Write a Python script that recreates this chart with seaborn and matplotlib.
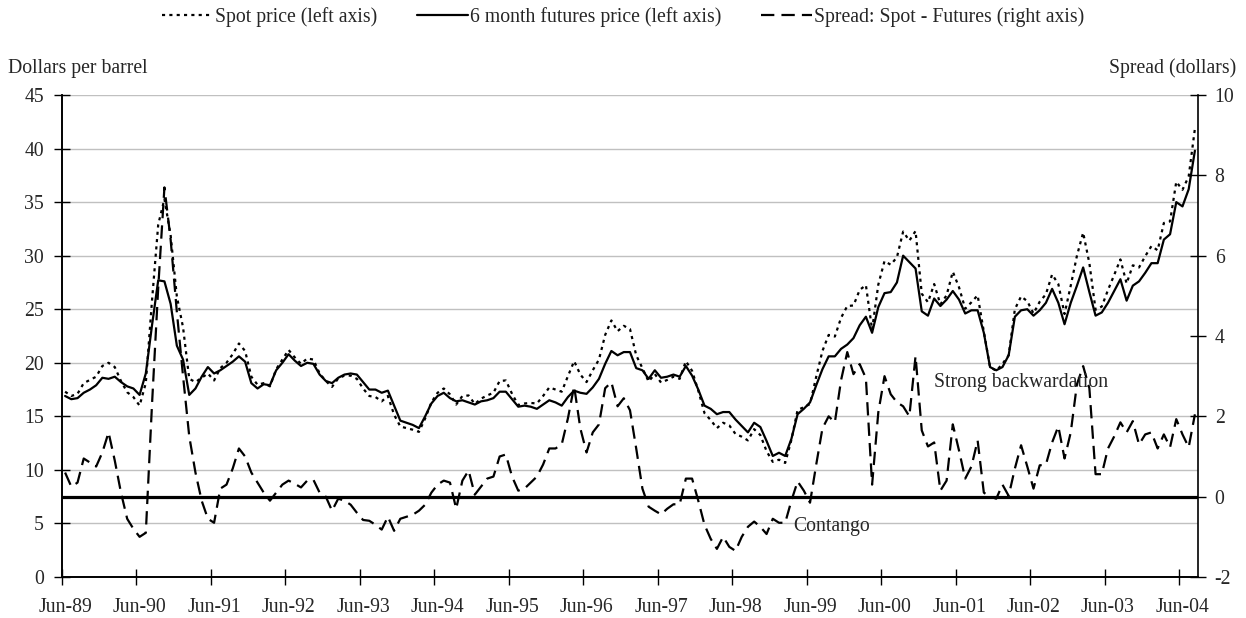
import numpy as np
import pandas as pd
import matplotlib
matplotlib.use("Agg")
import matplotlib.pyplot as plt
import seaborn as sns

# ---------------- data (monthly, Jun-1989 .. Aug-2004) ----------------
year_labels = ["Jun-89", "Jun-90", "Jun-91", "Jun-92", "Jun-93", "Jun-94", "Jun-95", "Jun-96",
               "Jun-97", "Jun-98", "Jun-99", "Jun-00", "Jun-01", "Jun-02", "Jun-03", "Jun-04"]

spot = [
    17.3, 16.9, 17.1, 18.1, 18.4, 18.7, 19.7, 20.0, 19.6, 18.3,
    17.25, 16.8, 16.0, 18.1, 25.8, 32.9, 35.3, 31.9, 26.2, 23.3,
    18.5, 18.2, 18.6, 19.0, 18.35, 19.5, 20.0, 20.8, 21.8, 21.1,
    18.7, 17.95, 18.1, 17.8, 19.4, 20.3, 21.2, 20.5, 19.9, 20.4,
    20.3, 19.0, 18.3, 17.75, 18.55, 18.8, 18.8, 18.5, 17.6, 16.9,
    16.8, 16.4, 16.9, 15.15, 14.05, 13.9, 13.75, 13.55, 14.8, 16.3,
    17.2, 17.6, 17.05, 16.1, 16.9, 16.95, 16.15, 16.65, 16.95, 17.2,
    18.3, 18.35, 17.1, 16.05, 16.2, 16.25, 16.2, 16.9, 17.7, 17.5,
    17.3, 18.75, 20.15, 18.9, 18.2, 19.3, 20.3, 22.6, 23.95, 22.95,
    23.45, 23.15, 20.7, 19.5, 18.25, 18.95, 18.15, 18.4, 18.7, 18.5,
    20.15, 19.25, 17.4, 15.3, 14.65, 13.9, 14.4, 14.15, 13.35, 13.1,
    12.75, 13.8, 13.25, 11.75, 10.75, 10.95, 10.65, 12.8, 15.6, 15.85,
    16.15, 18.7, 21.1, 22.6, 22.45, 24.2, 25.3, 25.35, 26.8, 27.25,
    23.1, 27.3, 29.5, 29.15, 29.85, 32.25, 31.4, 32.3, 26.45, 25.65,
    27.35, 25.45, 26.3, 28.5, 27.05, 25.05, 25.65, 26.3, 22.9, 19.6,
    19.25, 19.9, 20.7, 25.0, 26.2, 25.75, 24.6, 25.7, 26.4, 28.25,
    27.35, 24.55, 27.2, 30.0, 32.15, 29.3, 24.95, 25.25, 26.8, 28.2,
    29.65, 27.4, 29.1, 28.9, 29.95, 30.9, 30.5, 33.05, 33.2, 36.9,
    36.15, 37.4, 41.85]

futures = [
    16.9, 16.6, 16.7, 17.2, 17.5, 17.9, 18.6, 18.5, 18.7, 18.2,
    17.8, 17.6, 17.0, 19.0, 23.5, 27.7, 27.6, 25.5, 21.6, 20.3,
    17.0, 17.6, 18.7, 19.6, 19.0, 19.3, 19.7, 20.1, 20.6, 20.1,
    18.1, 17.6, 18.0, 17.9, 19.3, 20.0, 20.8, 20.2, 19.7, 20.0,
    19.9, 18.9, 18.3, 18.1, 18.6, 18.9, 19.0, 18.9, 18.2, 17.5,
    17.5, 17.2, 17.4, 16.0, 14.6, 14.4, 14.2, 13.9, 15.0, 16.2,
    16.9, 17.2, 16.7, 16.4, 16.5, 16.3, 16.1, 16.4, 16.5, 16.7,
    17.3, 17.3, 16.6, 15.9, 16.0, 15.9, 15.7, 16.1, 16.5, 16.3,
    16.0, 16.8, 17.4, 17.2, 17.1, 17.7, 18.5, 19.9, 21.1, 20.7,
    21.0, 21.0, 19.5, 19.3, 18.5, 19.3, 18.6, 18.7, 18.9, 18.7,
    19.7, 18.8, 17.5, 16.0, 15.7, 15.2, 15.4, 15.4, 14.7, 14.1,
    13.5, 14.4, 14.0, 12.7, 11.3, 11.6, 11.3, 12.9, 15.2, 15.7,
    16.3, 17.9, 19.4, 20.6, 20.6, 21.3, 21.7, 22.3, 23.5, 24.3,
    22.8, 25.2, 26.5, 26.6, 27.5, 30.0, 29.4, 28.8, 24.8, 24.4,
    26.0, 25.3, 25.9, 26.7, 25.9, 24.6, 24.9, 24.9, 22.8, 19.6,
    19.3, 19.6, 20.7, 24.3, 24.9, 25.0, 24.4, 24.9, 25.6, 26.9,
    25.6, 23.6, 25.6, 27.2, 28.9, 26.6, 24.4, 24.7, 25.6, 26.7,
    27.8, 25.8, 27.2, 27.6, 28.4, 29.3, 29.3, 31.5, 32.0, 35.0,
    34.6, 36.2, 39.8]

spread = [
    0.6, 0.25, 0.35, 0.95, 0.85, 0.75, 1.1, 1.6, 0.9, 0.1,
    -0.55, -0.8, -1.0, -0.9, 2.3, 5.2, 7.7, 6.4, 4.6, 3.0,
    1.5, 0.6, -0.1, -0.55, -0.65, 0.2, 0.3, 0.7, 1.2, 1.0,
    0.6, 0.35, 0.1, -0.1, 0.1, 0.3, 0.4, 0.32, 0.23, 0.4,
    0.42, 0.1, 0.0, -0.35, -0.05, -0.1, -0.2, -0.4, -0.58, -0.6,
    -0.7, -0.82, -0.5, -0.85, -0.55, -0.5, -0.45, -0.35, -0.2, 0.1,
    0.3, 0.4, 0.35, -0.3, 0.4, 0.65, 0.05, 0.25, 0.45, 0.5,
    1.0, 1.05, 0.5, 0.15, 0.2, 0.35, 0.5, 0.8, 1.2, 1.2,
    1.3, 1.95, 2.75, 1.7, 1.1, 1.6, 1.8, 2.7, 2.85, 2.25,
    2.45, 2.15, 1.2, 0.2, -0.25, -0.35, -0.44, -0.3, -0.19, -0.19,
    0.45, 0.45, -0.1, -0.7, -1.05, -1.3, -1.0, -1.25, -1.35, -1.0,
    -0.75, -0.62, -0.75, -0.93, -0.55, -0.65, -0.65, -0.1, 0.38, 0.15,
    -0.15, 0.8, 1.7, 2.0, 1.85, 2.9, 3.6, 3.05, 3.3, 2.95,
    0.3, 2.1, 3.0, 2.55, 2.35, 2.25, 2.0, 3.5, 1.65, 1.25,
    1.35, 0.15, 0.4, 1.8, 1.15, 0.45, 0.75, 1.4, 0.1, 0.0,
    -0.05, 0.3, 0.02, 0.7, 1.28, 0.75, 0.2, 0.78, 0.8, 1.35,
    1.75, 0.95, 1.6, 2.8, 3.25, 2.7, 0.56, 0.56, 1.2, 1.5,
    1.85, 1.6, 1.88, 1.3, 1.55, 1.6, 1.2, 1.55, 1.23, 1.93,
    1.55, 1.23, 2.05]

series_labels = ["Spot price (left axis)", "6 month futures price (left axis)",
                 "Spread: Spot - Futures (right axis)"]

# ---------------- styling ----------------
sns.set_theme(style="white")
plt.rcParams['font.family'] = ['Liberation Serif', 'DejaVu Serif']
plt.rcParams['axes.unicode_minus'] = False
FS = 14.2
plt.rcParams['font.size'] = FS

months = pd.date_range("1989-06-01", periods=len(spot), freq="MS")
df = pd.DataFrame({"m": np.arange(len(spot)), "month": months,
                   "spot": spot, "futures": futures, "spread": spread})

W, H = 1246, 618
fig = plt.figure(figsize=(W / 100, H / 100), dpi=100)
ax = fig.add_axes([62 / W, 1 - 577 / H, (1198 - 62) / W, (577 - 95) / H])
ax2 = ax.twinx()

LW = 1.6
sns.lineplot(data=df, x="m", y="spot", ax=ax, color="black", lw=LW,
             linestyle=(0, (1.4, 1.9)), dash_capstyle="butt", label=series_labels[0], legend=False)
sns.lineplot(data=df, x="m", y="futures", ax=ax, color="black", lw=LW,
             label=series_labels[1], legend=False)
sns.lineplot(data=df, x="m", y="spread", ax=ax2, color="black", lw=LW,
             linestyle=(0, (6.0, 3.2)), dash_capstyle="butt", label=series_labels[2], legend=False)
ax2.axhline(0, color="black", lw=2.3, zorder=1)

# axes limits & ticks
n = len(spot)
ax.set_xlim(-0.5, n - 0.5)
ax.set_ylim(0, 45)
ax2.set_ylim(-2, 10)
ax.set_yticks(np.arange(0, 46, 5))
ax2.set_yticks(np.arange(-2, 11, 2))
major = np.arange(-0.5, n - 1, 12)
ax.set_xticks(major)
ax.set_xticklabels([""] * len(major))
ax.set_xticks(np.arange(0, 12 * len(year_labels), 12), minor=True)
ax.set_xticklabels(year_labels, minor=True)

ax.tick_params(axis="x", which="major", direction="inout", length=11, width=1.0,
               color="black", bottom=True)
ax.tick_params(axis="x", which="minor", length=0, pad=15, labelsize=FS, bottom=True)
ax.tick_params(axis="y", which="major", direction="inout", length=11, width=1.0,
               color="black", pad=7.5, labelsize=FS, left=True)
ax2.tick_params(axis="y", which="major", direction="inout", length=11, width=1.0,
                color="black", pad=6.5, labelsize=FS, right=True)

ax.set_xlabel("")
ax.set_ylabel("")
ax2.set_ylabel("")

ax.yaxis.grid(True, color="#c0c0c0", lw=1.0)
ax.set_axisbelow(True)
for a in (ax, ax2):
    a.spines["top"].set_visible(False)
    for s in ("left", "bottom", "right"):
        a.spines[s].set_color("black")
        a.spines[s].set_linewidth(1.2)
ax.spines["right"].set_visible(False)

# axis titles
fig.text(8 / W, 1 - 68 / H, "Dollars per barrel", ha="left", va="center", fontsize=FS)
fig.text(1236 / W, 1 - 68 / H, "Spread (dollars)", ha="right", va="center", fontsize=FS)

# annotations
ax2.text(140.0, 2.83, "Strong backwardation", ha="left", va="center", fontsize=FS)
ax2.text(117.3, -0.75, "Contango", ha="left", va="center", fontsize=FS)

# legend
handles = ax.get_lines()[:2] + [ax2.get_lines()[0]]
fig.legend(handles, series_labels, loc="center", bbox_to_anchor=(0.5, 1 - 17 / H),
           ncol=3, frameon=False, fontsize=FS, handlelength=2.6, handletextpad=0.1,
           columnspacing=2.0, borderpad=0)

fig.savefig("out.png", dpi=100)
